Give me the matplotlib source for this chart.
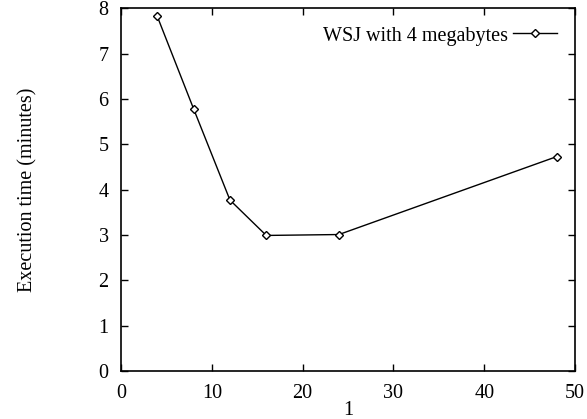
import matplotlib
matplotlib.use("Agg")
import matplotlib.pyplot as plt

x_vals = [4, 8, 12, 16, 24, 48]
times = [7.82, 5.78, 3.77, 2.99, 3.01, 4.73]
series_label = "WSJ with 4 megabytes"
x_ticks = [0, 10, 20, 30, 40, 50]
y_ticks = [0, 1, 2, 3, 4, 5, 6, 7, 8]

plt.rcParams['font.family'] = ['Liberation Serif', 'DejaVu Serif']
plt.rcParams['font.size'] = 14.5

fig = plt.figure(figsize=(5.87, 4.19), dpi=100)
ax = fig.add_axes([121/587, 1-371/419, (575-121)/587, (371-8.3)/419])

ax.plot(x_vals, times, color='black', lw=1.0, marker='D', markersize=4,
        markerfacecolor='white', markeredgecolor='black', markeredgewidth=1.0,
        label=series_label)

ax.set_xlim(0, 50)
ax.set_ylim(0, 8)
ax.set_xticks(x_ticks)
ax.set_yticks(y_ticks)
ax.tick_params(axis='x', direction='in', top=True, length=5, width=1.0, pad=9)
ax.tick_params(axis='y', direction='in', right=True, length=5, width=1.0, pad=9)
for s in ax.spines.values():
    s.set_linewidth(1.2)

ax.set_xlabel("1", labelpad=-1)
ax.set_ylabel("Execution time (minutes)", labelpad=44)

leg = ax.legend(loc='upper right', frameon=False, markerfirst=False,
                handlelength=2.2, borderaxespad=0.5, handletextpad=0.25)

fig.savefig("out.png", dpi=100)
